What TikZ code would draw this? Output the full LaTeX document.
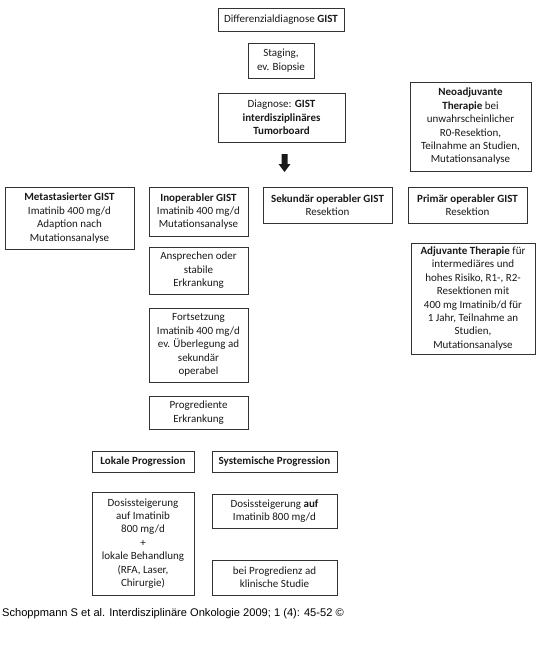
\documentclass[tikz,border=0pt]{standalone}
\usepackage{fontspec}
\setmainfont{Carlito}
\newfontfamily\footfont{Liberation Sans}
\tikzset{
  gbox/.style={draw=black!80, line width=0.9pt, align=center, inner sep=0pt,
    text=black!90, font=\fontsize{11}{13.4}\selectfont},
  blockarrow/.style={fill=black!90, draw=none},
  srcnote/.style={anchor=base west, inner sep=0pt, text=black,
    font=\footfont\fontsize{11.1}{12}\selectfont}
}
\newcommand\gb[6]{%
  \node[gbox, minimum width={(#4-#2)*1pt}, minimum height={(#5-#3)*1pt}]
    (#1) at ({(#2+#4)/2},{-(#3+#5)/2}) {#6};}
\begin{document}
\begin{tikzpicture}[x=1pt,y=1pt]
\useasboundingbox (0,0) rectangle (538,-661);
\gb{diff}{218}{8}{344}{31}{Differenzialdiagnose \textbf{GIST}}
\gb{stag}{248}{43}{314}{78}{Staging,\\ev. Biopsie}
\gb{diag}{218}{93}{345}{142}{Diagnose: \textbf{GIST}\\\textbf{interdisziplinäres}\\\textbf{Tumorboard}}
\gb{neo}{410}{82}{531}{171}{\textbf{Neoadjuvante}\\\textbf{Therapie} bei\\unwahrscheinlicher\\R0-Resektion,\\Teilnahme an Studien,\\Mutationsanalyse}
\fill[blockarrow] (281.5,-154) -- (287.5,-154) -- (287.5,-164) -- (290.5,-164) -- (284.5,-172) -- (278.5,-164) -- (281.5,-164) -- cycle;
\gb{meta}{5}{187}{134}{249}{\textbf{Metastasierter GIST}\\Imatinib 400 mg/d\\Adaption nach\\Mutationsanalyse}
\gb{inop}{149}{187}{248}{236}{\textbf{Inoperabler GIST}\\Imatinib 400 mg/d\\Mutationsanalyse}
\gb{sek}{263}{187}{392}{223}{\textbf{Sekundär operabler GIST}\\Resektion}
\gb{prim}{408}{187}{527}{223}{\textbf{Primär operabler GIST}\\Resektion}
\gb{adj}{411}{243}{535}{354}{\textbf{Adjuvante Therapie} für\\intermediäres und\\hohes Risiko, R1-, R2-\\Resektionen mit\\400 mg Imatinib/d für\\1 Jahr, Teilnahme an\\Studien,\\Mutationsanalyse}
\gb{ansp}{149}{247}{248}{294}{Ansprechen oder\\stabile\\Erkrankung}
\gb{fort}{149}{308}{248}{382}{Fortsetzung\\Imatinib 400 mg/d\\ev. Überlegung ad\\sekundär\\operabel}
\gb{prog}{149}{396}{248}{429}{Progrediente\\Erkrankung}
\gb{lok}{92}{451}{194}{472}{\textbf{Lokale Progression}}
\gb{sys}{212}{451}{337}{472}{\textbf{Systemische Progression}}
\gb{dosl}{92}{492}{194}{595}{Dosissteigerung\\auf Imatinib\\800 mg/d\\+\\lokale Behandlung\\(RFA, Laser,\\Chirurgie)}
\gb{dosr}{212}{494}{337}{528}{Dosissteigerung \textbf{auf}\\Imatinib 800 mg/d}
\gb{klin}{212}{560}{337}{595}{bei Progredienz ad\\klinische Studie}
\node[srcnote] (src) at (2,-616) {Schoppmann S et al. Interdisziplinäre Onkologie 2009; 1 (4): 45-52 ©};
\end{tikzpicture}
\end{document}
